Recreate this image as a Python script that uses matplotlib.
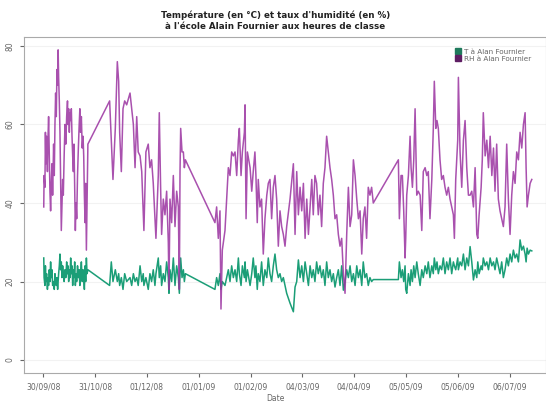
import datetime as dt
import matplotlib
matplotlib.use("Agg")
import matplotlib.pyplot as plt

START = dt.datetime(2008, 9, 30)

# school periods: days since 30/09/08, relative humidity (%), temperature (degC)
days_a = [0.3, 0.5, 1.0, 1.3, 1.6, 2.0, 2.5, 2.8, 3.2, 3.6,
          4.0, 4.4, 4.8, 5.2, 5.6, 6.2, 6.6, 7.0, 7.4, 7.8,
          8.2, 8.6, 8.9, 9.2, 9.6, 10.0, 10.4, 10.8, 11.2, 11.6,
          12.0, 12.5, 13.0, 13.5, 14.0, 14.5, 14.8, 15.2, 15.6, 16.0,
          16.4, 16.8, 17.2, 17.6, 18.0, 18.4, 18.8, 19.2, 19.6, 20.0,
          20.5, 21.0, 21.5, 21.9, 22.3, 22.8, 23.3, 23.8, 24.2, 24.6,
          25.0, 25.4, 25.8, 26.2, 26.7]
rh_a = [39, 47, 44, 58, 50, 57, 48, 56, 62, 52,
        43, 38, 45, 50, 42, 55, 47, 60, 68, 62,
        74, 70, 79, 72, 66, 58, 45, 33, 40, 46,
        42, 52, 60, 55, 62, 66, 60, 64, 58, 63,
        61, 64, 57, 52, 48, 55, 44, 33, 40, 36,
        47, 54, 60, 64, 58, 62, 54, 57, 52, 42,
        35, 45, 28, 40, 55]
t_a = [26, 21, 19, 24, 20, 22, 18, 21, 19, 23,
       20, 25, 21, 23, 19, 20, 18, 22, 20, 19,
       21, 18, 20, 22, 24, 27, 23, 25, 21, 24,
       22, 20, 23, 21, 25, 22, 24, 20, 23, 21,
       26, 22, 24, 19, 23, 21, 25, 19, 22, 20,
       24, 21, 23, 19, 22, 25, 20, 23, 21, 18,
       24, 20, 26, 22, 23]

days_b = [39.7, 40.7, 41.7, 43.1, 44.3, 45.1, 45.7, 46.7, 47.7, 48.7,
          49.9, 51.9, 52.9, 53.9, 54.9, 55.9, 56.8, 57.9, 58.9, 59.8,
          60.2, 61.4, 62.8, 63.8, 64.8, 65.8, 66.8, 67.4, 68.8, 69.4,
          70.2, 70.8, 71.8, 72.8, 73.8, 74.8, 75.2, 75.8, 76.8, 77.8,
          78.8, 79.8, 80.8, 81.4, 81.8, 82.2, 83.0, 83.8, 84.4, 85.0]
rh_b = [66, 56, 46, 59, 76, 71, 58, 48, 64, 66,
        65, 68, 64, 60, 49, 62, 53, 52, 48, 38,
        33, 53, 55, 49, 51, 45, 36, 31, 47, 63,
        44, 32, 41, 37, 43, 30, 18, 41, 35, 47,
        34, 43, 39, 18, 48, 59, 53, 53, 49, 51]
t_b = [19, 25, 20, 23, 20, 22, 19, 21, 18, 22,
       20, 21, 19, 22, 20, 21, 19, 24, 20, 22,
       19, 21, 18, 22, 20, 23, 19, 22, 26, 21,
       24, 19, 22, 20, 25, 21, 17, 23, 20, 26,
       19, 24, 21, 17, 22, 26, 21, 23, 20, 22]

days_c = [102.7, 103.7, 104.7, 105.7, 106.3, 107.1, 108.7, 110.7, 111.7, 112.7,
          113.7, 114.7, 115.7, 116.7, 117.3, 118.3, 119.1, 120.3, 120.7, 121.3,
          122.1, 123.7, 124.7, 125.6, 126.6, 127.2, 128.0, 128.6, 129.6, 130.6,
          131.6, 132.6, 133.7, 134.6, 135.6, 136.6, 137.6, 138.6, 139.6, 140.6,
          141.6, 142.6, 143.6, 144.6, 145.6, 147.6, 149.6, 150.6, 151.6, 152.6,
          153.6, 154.6, 155.6, 156.6, 157.6, 158.6, 159.6, 160.6, 161.5, 162.5,
          163.5, 164.5, 165.5, 166.5, 167.5, 168.5, 169.5, 170.5, 171.5, 172.5,
          173.5, 174.5, 175.5, 176.5, 177.5, 178.5, 179.5, 180.5, 181.5, 182.5,
          183.5, 184.5, 185.5, 186.5, 187.5, 188.5, 189.5, 190.5, 191.4, 192.4,
          193.4, 194.4, 195.4, 196.4, 197.4]
rh_c = [35, 39, 31, 38, 13, 28, 33, 49, 47, 53,
        52, 53, 47, 56, 59, 47, 53, 58, 65, 36,
        53, 49, 43, 48, 53, 47, 35, 46, 39, 41,
        27, 36, 42, 45, 46, 36, 44, 47, 41, 29,
        38, 34, 32, 29, 34, 41, 50, 32, 48, 37,
        44, 38, 45, 31, 41, 32, 39, 46, 37, 47,
        45, 37, 42, 34, 45, 49, 57, 53, 49, 46,
        42, 36, 37, 32, 29, 31, 22, 17, 32, 44,
        34, 37, 51, 47, 41, 36, 38, 27, 36, 39,
        31, 44, 42, 44, 40]
t_c = [18, 21, 19, 22, 18, 20, 19, 23, 20, 24,
       21, 23, 20, 26, 22, 19, 24, 21, 25, 20,
       23, 19, 22, 26, 21, 24, 18, 22, 20, 25,
       19, 23, 21, 26, 22, 20, 24, 27, 23, 21,
       22, 20, 21, 19, 17, 14.5, 12.3, 18.6, 20, 25.5,
       21, 24, 20, 25, 22, 19, 24, 21, 23, 20,
       25, 22, 24, 21, 23, 19, 25, 21, 23, 20,
       22, 18.6, 21, 23, 19, 24, 17.8, 20, 23, 21,
       24, 20, 22, 19, 24, 21, 23, 19, 25, 21,
       22, 19, 21, 20, 20.5]

days_d = [212.4, 213.0, 214.0, 214.8, 215.6, 216.4, 216.8, 217.4, 218.4, 219.4,
          220.0, 220.8, 221.6, 222.4, 223.4, 224.3, 225.4, 226.4, 227.3, 228.4,
          229.4, 230.3, 231.3, 232.4, 233.3, 233.9, 234.8, 235.5, 236.3, 237.3,
          238.3, 239.3, 240.3, 241.3, 242.3, 243.3, 244.3, 245.3, 245.9, 246.7,
          247.9, 248.3, 249.3, 250.3, 251.3, 252.3, 253.3, 254.3, 255.3, 256.3,
          257.3, 258.3, 259.3, 259.9, 260.7, 261.9, 262.6, 263.2, 264.3, 265.3,
          266.3, 267.3, 268.3, 269.3, 270.2, 271.2, 272.2, 273.2, 274.2, 275.2,
          276.2, 277.2, 278.2, 279.2, 280.2, 281.2, 282.2, 283.2, 284.2, 285.2,
          286.2, 287.2, 288.2, 288.8, 289.4, 290.2, 291.2, 292.2]
rh_d = [51, 36, 47, 47, 38, 26, 31, 42, 47, 57,
        49, 44, 51, 64, 42, 43, 42, 33, 48, 49,
        47, 48, 36, 46, 59, 71, 59, 61, 59, 51,
        46, 47, 44, 42, 44, 41, 39, 37, 31, 46,
        56, 72, 53, 44, 56, 61, 49, 42, 42, 43,
        39, 49, 32, 31, 37, 44, 51, 63, 52, 56,
        49, 57, 47, 54, 43, 55, 41, 38, 36, 34,
        39, 55, 41, 32, 42, 48, 45, 53, 51, 58,
        54, 60, 63, 49, 39, 42, 45, 46]
t_d = [20.5, 25, 21, 23, 20, 24, 18, 17, 22, 19,
       23, 20, 24, 21, 25, 22, 19, 23, 21, 24,
       22, 25, 21, 24, 22, 26, 23, 25, 22, 24,
       23, 26, 22, 25, 23, 26, 22, 25, 24, 23,
       26, 23, 25, 24, 27, 23, 26, 24, 28.9, 25,
       20.4, 23, 21, 25, 22, 24, 23, 26, 24, 25,
       23, 26, 24, 25, 23, 26, 24, 22, 25, 21,
       23, 26, 24, 27, 25, 28, 26, 27, 25, 30.6,
       28, 29, 27, 25, 28.5, 27, 28, 27.8]

tick_dates = ["30/09/08", "31/10/08", "01/12/08", "01/01/09", "01/02/09",
              "04/03/09", "04/04/09", "05/05/09", "05/06/09", "06/07/09"]

days = days_a + days_b + days_c + days_d
rh = rh_a + rh_b + rh_c + rh_d
temp = t_a + t_b + t_c + t_d
when = [START + dt.timedelta(days=d) for d in days]

grey = "#666666"
fig = plt.figure(figsize=(5.46, 4.03), dpi=100)
ax = fig.add_axes([0.044, 0.0744, 0.956, 0.834])

ax.plot(when, temp, color="#1b9e77", lw=1.1)
ax.plot(when, rh, color="#9a32a0", lw=1.1, alpha=0.85)

ax.set_ylim(-3.3, 82.3)
ax.set_xlim(START - dt.timedelta(days=11.5), START + dt.timedelta(days=300.7))
ax.set_yticks([0, 20, 40, 60, 80])
ax.set_yticklabels(["0", "20", "40", "60", "80"], rotation=90, va="center")
ticks = [dt.datetime.strptime(s, "%d/%m/%y") for s in tick_dates]
ax.set_xticks(ticks)
ax.set_xticklabels(tick_dates)
ax.tick_params(colors=grey, labelsize=5.5, length=3, width=0.8)
for side in ["left", "bottom", "top", "right"]:
    ax.spines[side].set_color("#aaaaaa")
ax.grid(axis="y", color="#f2f2f2", lw=0.8)
ax.set_axisbelow(True)

fig.text(0.504, 0.975,
         "Température (en °C) et taux d'humidité (en %)\n"
         "à l'école Alain Fournier aux heures de classe",
         ha="center", va="top", fontsize=6.3, fontweight="bold", color="#222222",
         linespacing=1.3)
fig.text(0.504, 0.001, "Date", ha="center", va="bottom", fontsize=5.5, color=grey)

# legend with square keys
h_t, = ax.plot([], [], "s", color="#1f7a5c", ms=4)
h_rh, = ax.plot([], [], "s", color="#5e1d63", ms=4)
leg = ax.legend([h_t, h_rh], ["T à Alan Fournier", "RH à Alan Fournier"],
                loc="upper right", frameon=False, fontsize=5.2,
                handlelength=0.8, handletextpad=0.5, labelspacing=0.2,
                bbox_to_anchor=(0.985, 0.985))
for txt in leg.get_texts():
    txt.set_color(grey)

fig.savefig("out.png", dpi=100)
